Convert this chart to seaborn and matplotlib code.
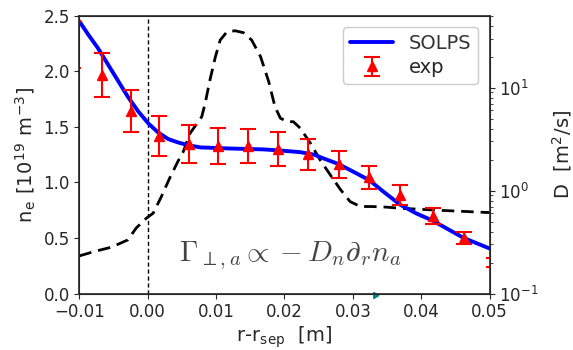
import numpy as np
import pandas as pd
import matplotlib
matplotlib.use("Agg")
import matplotlib.pyplot as plt
import seaborn as sns

# SOLPS density profile
solps_r = [-0.0100, -0.0087, -0.0073, -0.0058, -0.0043, -0.0029, -0.0014, 0.0001,
           0.0015, 0.0030, 0.0044, 0.0059, 0.0077, 0.0120, 0.0169, 0.0194, 0.0223,
           0.0243, 0.0257, 0.0279, 0.0301, 0.0324, 0.0345, 0.0369, 0.0393, 0.0417,
           0.0462, 0.0500]
solps_ne = [2.45, 2.33, 2.21, 2.06, 1.91, 1.77, 1.64, 1.53,
            1.45, 1.39, 1.36, 1.335, 1.315, 1.305, 1.297, 1.287, 1.272,
            1.25, 1.216, 1.165, 1.095, 1.02, 0.915, 0.80, 0.72, 0.655,
            0.50, 0.405]

# experimental density with error bars
exp_r = [-0.0109, -0.0067, -0.0025, 0.0017, 0.0060, 0.0103, 0.0146, 0.0190, 0.0234,
         0.0280, 0.0324, 0.0369, 0.0417, 0.0462, 0.0507]
exp_ne = [2.24, 1.967, 1.645, 1.417, 1.345, 1.327, 1.327, 1.30, 1.252,
          1.162, 1.045, 0.886, 0.696, 0.504, 0.28]
exp_err = [0.21, 0.20, 0.19, 0.18, 0.17, 0.165, 0.155, 0.15, 0.14,
           0.12, 0.105, 0.09, 0.072, 0.054, 0.04]

# diffusion coefficient profile
d_r = [-0.0100, -0.0078, -0.0053, -0.0029, -0.0017, -0.0002, 0.0008, 0.0020,
       0.0032, 0.0044, 0.0052, 0.0062, 0.0079, 0.0084, 0.0091, 0.0099, 0.0106,
       0.0116, 0.0128, 0.0140, 0.0152, 0.0165, 0.0177, 0.0186, 0.0194, 0.0204,
       0.0213, 0.0223, 0.0238, 0.0252, 0.0267, 0.0282, 0.0296, 0.0311, 0.0328,
       0.0350, 0.0367, 0.0428, 0.0500]
d_val = [0.232, 0.256, 0.282, 0.332, 0.432, 0.539, 0.604, 0.875,
         1.318, 1.914, 2.39, 3.61, 5.22, 7.06, 11.9, 20.0, 29.0,
         35.0, 35.7, 34.2, 29.0, 20.0, 11.4, 6.55, 5.05, 4.67,
         4.67, 4.04, 2.88, 1.99, 1.42, 1.02, 0.781, 0.70, 0.70,
         0.69, 0.675, 0.643, 0.611]

x_ticks = [-0.01, 0.00, 0.01, 0.02, 0.03, 0.04, 0.05]
x_labels = ["\u22120.01", "0.00", "0.01", "0.02", "0.03", "0.04", "0.05"]
y_ticks = [0.0, 0.5, 1.0, 1.5, 2.0, 2.5]

sns.set_style("ticks")
plt.rcParams["font.family"] = ["DejaVu Sans"]
plt.rcParams["mathtext.fontset"] = "cm"

fig = plt.figure(figsize=(5.73, 3.5), dpi=100)
ax = fig.add_axes([0.1385, 0.1614, 0.716, 0.7937])
ax2 = ax.twinx()

df_s = pd.DataFrame({"r": solps_r, "ne": solps_ne})
df_d = pd.DataFrame({"r": d_r, "D": d_val})

sns.lineplot(data=df_d, x="r", y="D", ax=ax2, color="black", lw=2,
             linestyle=(0, (4.5, 2.5)), legend=False)
ax2.set_yscale("log")
ax2.set_ylim(0.1, 50)
ax2.set_ylabel(r"D  [m$^{\mathregular{2}}$/s]", fontsize=14, labelpad=8)
ax2.tick_params(labelsize=12)

ax.set_zorder(ax2.get_zorder() + 1)
ax.patch.set_visible(False)

ax.axvline(0.0, color="black", lw=1, ls="--", dashes=(3, 2))
sns.lineplot(data=df_s, x="r", y="ne", ax=ax, color="blue", lw=2.8, label="SOLPS")
ax.errorbar(exp_r, exp_ne, yerr=exp_err, fmt="^", color="red", ms=7,
            capsize=6, elinewidth=1.5, capthick=1.5, label="exp")

ax.set_xlim(-0.01, 0.05)
ax.set_ylim(0, 2.5)
ax.set_xticks(x_ticks)
ax.set_yticks(y_ticks)
ax.set_xticklabels(x_labels)
ax.tick_params(labelsize=12)
ax.set_xlabel(r"r-r$_{\mathregular{sep}}$  [m]", fontsize=14, labelpad=2)
ax.set_ylabel(r"n$_{\mathregular{e}}$ [10$^{\mathregular{19}}$ m$^{\mathregular{-3}}$]", fontsize=14)

ax.text(0.0208, 0.34, r"$\Gamma_{\perp,a} \propto -D_n\partial_r n_a$",
        fontsize=21, color="#444444", ha="center", va="center")

ax.plot([0.0333], [-0.01], marker=(3, 0, 30), color="teal", ms=5, clip_on=False)

leg = ax.legend(loc="upper right", fontsize=14, framealpha=1, edgecolor="#cccccc",
                handlelength=2.2, borderpad=0.35, labelspacing=0.25,
                borderaxespad=0.6)
leg.get_texts()[0].set_color("#333333")
for s in ax.spines.values():
    s.set_linewidth(1.2)

fig.savefig("out.png", dpi=100)
